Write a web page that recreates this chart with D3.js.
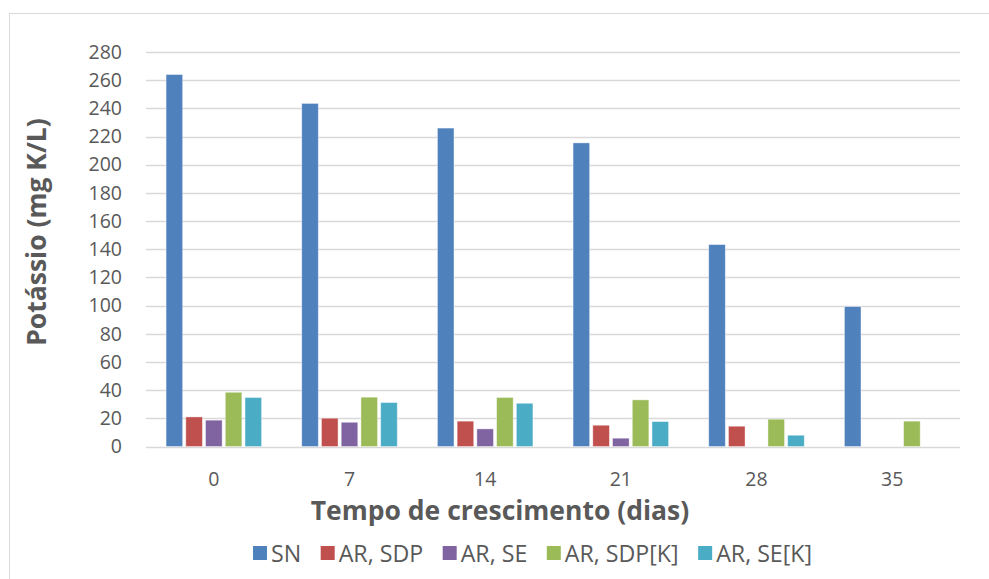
<!DOCTYPE html>
<html><head><meta charset="utf-8">
<script src="https://cdn.jsdelivr.net/npm/d3@7"></script>
<style>body{margin:0;background:#fff;} svg{display:block;}</style>
</head><body>
<svg id="c" width="989" height="579"></svg>
<script>
const categories = ["0","7","14","21","28","35"];
const seriesNames = ["SN","AR, SDP","AR, SE","AR, SDP[K]","AR, SE[K]"];
const SN       = [264, 243.5, 226, 215.5, 143.3, 99.3];
const AR_SDP   = [21, 20.1, 18, 15.1, 14.4, null];
const AR_SE    = [18.7, 17.2, 12.5, 5.9, null, null];
const AR_SDP_K = [38.5, 35, 34.8, 33.1, 19.4, 18];
const AR_SE_K  = [34.8, 31.2, 30.7, 17.7, 8, null];
const yTicks = [0,20,40,60,80,100,120,140,160,180,200,220,240,260,280];
const colors = ["#4F81BD","#C0504D","#8064A2","#9BBB59","#4BACC6"];
const allSeries = [SN, AR_SDP, AR_SE, AR_SDP_K, AR_SE_K];

(function(){
const svg = d3.select("#c");
const font = "'Open Sans', sans-serif";
const textColor = "#595959";

svg.append("rect").attr("x",9.5).attr("y",13.5).attr("width",1000).attr("height",600)
  .attr("fill","#fff").attr("stroke","#d9d9d9").attr("stroke-width",1);

const pLeft = 146, pRight = 960, pTop = 52, pBottom = 446.5;
const y = d3.scaleLinear().domain([0,280]).range([pBottom, pTop]);
const x0 = d3.scaleBand().domain(categories).range([pLeft, pRight]).paddingInner(0.29).paddingOuter(0.145);
const x1 = d3.scaleBand().domain(seriesNames).range([0, x0.bandwidth()]).paddingInner(0.16).paddingOuter(0.02);

svg.append("g").selectAll("line").data(yTicks).join("line")
  .attr("x1", pLeft).attr("x2", pRight)
  .attr("y1", d => Math.round(y(d))+0.5).attr("y2", d => Math.round(y(d))+0.5)
  .attr("stroke", "#d9d9d9").attr("stroke-width", 1.3);

const yAxis = d3.axisLeft(y).tickValues(yTicks).tickSize(0).tickPadding(0);
const gy = svg.append("g").attr("transform", `translate(${122},0)`).call(yAxis);
gy.select(".domain").remove();
gy.selectAll("text").attr("font-family", font).attr("font-size", 19.5).attr("fill", textColor);

const xAxis = d3.axisBottom(x0).tickSize(0).tickPadding(0);
const gx = svg.append("g").attr("transform", `translate(0,${472})`).call(xAxis);
gx.select(".domain").remove();
gx.selectAll("text").attr("font-family", font).attr("font-size", 19.5).attr("fill", textColor);

const data = [];
categories.forEach((c,i) => seriesNames.forEach((s,j) => {
  const v = allSeries[j][i];
  if (v != null) data.push({c, s, v, j});
}));
svg.append("g").selectAll("rect").data(data).join("rect")
  .attr("x", d => x0(d.c) + x1(d.s))
  .attr("width", x1.bandwidth())
  .attr("y", d => y(d.v))
  .attr("height", d => y(0) - y(d.v))
  .attr("fill", d => colors[d.j])
  .attr("stroke", "#ffffff").attr("stroke-opacity", 0.5).attr("stroke-width", 0.8);

svg.append("text").attr("transform", "translate(46,232) rotate(-90)")
  .attr("text-anchor","middle").attr("font-family", font).attr("font-weight","bold")
  .attr("font-size", 26.5).attr("fill", textColor).text("Potássio (mg K/L)");
svg.append("text").attr("x", 500).attr("y", 520)
  .attr("text-anchor","middle").attr("font-family", font).attr("font-weight","bold")
  .attr("font-size", 26.5).attr("fill", textColor).text("Tempo de crescimento (dias)");

const lg = svg.append("g");
let lx = 253;
seriesNames.forEach((s,j) => {
  lg.append("rect").attr("x", lx).attr("y", 546).attr("width", 14).attr("height", 14).attr("fill", colors[j]);
  const t = lg.append("text").attr("x", lx + 18).attr("y", 562)
    .attr("font-family", font).attr("font-size", 23.2).attr("fill", textColor).text(s);
  lx += 18 + t.node().getComputedTextLength() + 19.5;
});
})();
</script>
</body></html>
